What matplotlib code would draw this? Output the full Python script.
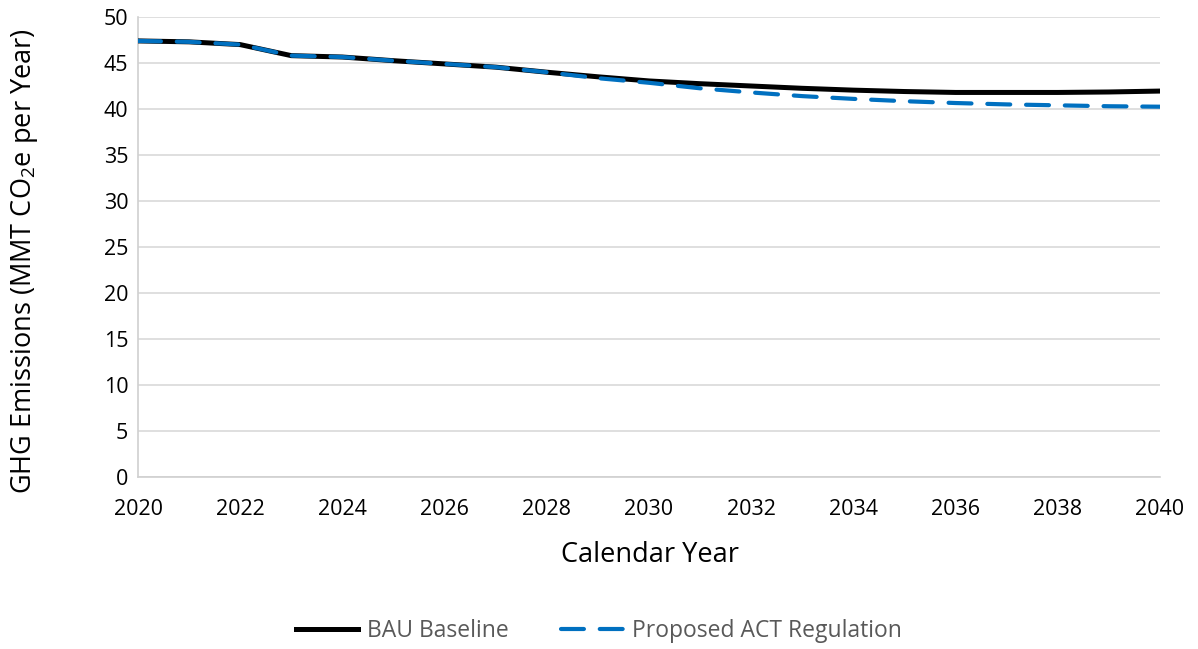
import matplotlib
matplotlib.use('Agg')
import matplotlib.pyplot as plt

years = list(range(2020, 2041))
bau = [47.4, 47.3, 47.0, 45.8, 45.65, 45.25, 44.9, 44.55, 44.0, 43.5, 43.05,
       42.75, 42.5, 42.25, 42.05, 41.9, 41.8, 41.8, 41.8, 41.85, 41.95]
act = [47.4, 47.3, 47.0, 45.8, 45.65, 45.25, 44.9, 44.55, 44.0, 43.35, 42.85,
       42.25, 41.8, 41.4, 41.1, 40.85, 40.65, 40.5, 40.4, 40.3, 40.25]

plt.rcParams['font.family'] = ['Open Sans', 'DejaVu Sans']
plt.rcParams['mathtext.default'] = 'regular'

fig = plt.figure(figsize=(11.98, 6.49), dpi=100)
ax = fig.add_axes([0.1152, 0.265, 0.8531, 0.7088])

ax.plot(years, bau, color='black', lw=3.6, label='BAU Baseline', zorder=3)
ax.plot(years, act, color='#0070C0', lw=3.0, ls=(0, (5.5, 3.8)), dash_capstyle='round',
        label='Proposed ACT Regulation', zorder=4)

ax.set_xlim(2020, 2040)
ax.set_ylim(0, 50)
ax.set_xticks(range(2020, 2041, 2))
ax.set_yticks(range(0, 51, 5))
ax.tick_params(length=0, labelsize=15.5)
ax.tick_params(axis='x', pad=16)
ax.tick_params(axis='y', pad=7)
ax.grid(axis='y', color='#d9d9d9', lw=1.2)
ax.set_axisbelow(True)
for s in ['top', 'right']:
    ax.spines[s].set_visible(False)
ax.spines['left'].set_color('#d0d0d0')
ax.spines['bottom'].set_color('#d0d0d0')
ax.spines['left'].set_linewidth(1.2)
ax.spines['bottom'].set_linewidth(1.2)

ax.set_xlabel('Calendar Year', fontsize=19.5)
ax.set_ylabel('GHG Emissions (MMT CO$_2$e per Year)', fontsize=19.5)
ax.xaxis.set_label_coords(0.501, -0.14)
ax.yaxis.set_label_coords(-0.096, 0.47)

leg = fig.legend(loc='center', bbox_to_anchor=(0.5, 0.027), ncol=2, frameon=False,
                 fontsize=16.5, handlelength=2.7, columnspacing=2.3, handletextpad=0.4)
for t in leg.get_texts():
    t.set_color('#595959')

fig.savefig('out.png', dpi=100)
